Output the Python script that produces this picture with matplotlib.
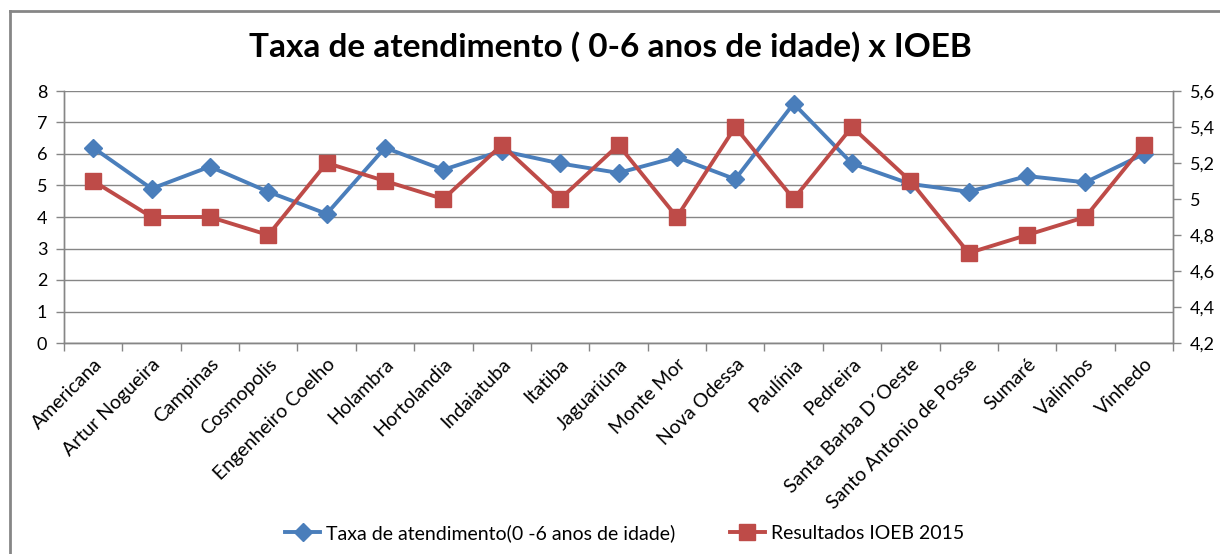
import matplotlib

matplotlib.use("Agg")

import matplotlib.pyplot as plt
from matplotlib.lines import Line2D
from matplotlib.ticker import FixedLocator, FuncFormatter
import numpy as np

plt.rcParams["font.family"] = ["Lato", "DejaVu Sans"]

# chart data
cidades = ["Americana", "Artur Nogueira", "Campinas", "Cosmopolis",
           "Engenheiro Coelho", "Holambra", "Hortolandia", "Indaiatuba",
           "Itatiba", "Jaguariúna", "Monte Mor", "Nova Odessa", "Paulínia",
           "Pedreira", "Santa Barba D´Oeste", "Santo Antonio de Posse",
           "Sumaré", "Valinhos", "Vinhedo"]
taxa = [6.2, 4.9, 5.6, 4.8, 4.1, 6.2, 5.5, 6.1, 5.7, 5.4, 5.9, 5.2, 7.6,
        5.7, 5.05, 4.8, 5.3, 5.1, 6.0]
ioeb = [5.1, 4.9, 4.9, 4.8, 5.2, 5.1, 5.0, 5.3, 5.0, 5.3, 4.9, 5.4, 5.0,
        5.4, 5.1, 4.7, 4.8, 4.9, 5.3]
left_ticks = [0, 1, 2, 3, 4, 5, 6, 7, 8]
right_ticks = [4.2, 4.4, 4.6, 4.8, 5.0, 5.2, 5.4, 5.6]

BLUE = "#4A7EBB"
RED = "#BE4B48"
GRAY = "#868686"

fig = plt.figure(figsize=(12.2, 5.54), dpi=100)
ax = fig.add_axes([64 / 1220, 1 - 343 / 554, (1173 - 64) / 1220, (343 - 91) / 554])
ax2 = ax.twinx()

x = np.arange(len(cidades))

# gridlines from the left axis
ax.set_ylim(0, 8)
ax.set_yticks(left_ticks)
ax.yaxis.grid(True, color=GRAY, linewidth=1.0)
ax.set_axisbelow(True)

ax.plot(x, taxa, color=BLUE, linewidth=2.8, marker="D", markersize=9.5,
        markerfacecolor=BLUE, markeredgecolor=BLUE, zorder=3)
ax2.plot(x, ioeb, color=RED, linewidth=2.8, marker="s", markersize=11,
         markerfacecolor=RED, markeredgecolor=RED, zorder=4)
ax2.set_ylim(4.2, 5.6)
ax2.set_yticks(right_ticks)
ax2.yaxis.set_major_formatter(FuncFormatter(
    lambda v, p: ("%g" % round(v, 1)).replace(".", ",")))

ax.set_xlim(-0.5, len(cidades) - 0.5)
ax.set_xticks(x)
ax.set_xticklabels(cidades, rotation=45, ha="right", rotation_mode="anchor",
                   fontsize=14)
ax.xaxis.set_minor_locator(FixedLocator(np.arange(-0.5, len(cidades), 1.0)))
ax.tick_params(axis="x", which="major", length=0, pad=9)
ax.tick_params(axis="x", which="minor", length=6, color=GRAY, width=1)
ax.tick_params(axis="y", length=6, color=GRAY, width=1, labelsize=13, pad=6)
ax2.tick_params(axis="y", length=6, color=GRAY, width=1, labelsize=13, pad=6)

for a in (ax, ax2):
    a.spines["top"].set_visible(False)
    for s in ("left", "right", "bottom"):
        a.spines[s].set_color(GRAY)
        a.spines[s].set_linewidth(1.0)

fig.suptitle("Taxa de atendimento ( 0-6 anos de idade) x IOEB", y=1 - 47 / 554,
             va="center", fontsize=24, fontweight="bold")

handles = [
    Line2D([], [], color=BLUE, linewidth=2.8, marker="D", markersize=9.5),
    Line2D([], [], color=RED, linewidth=2.8, marker="s", markersize=11),
]
fig.legend(handles, ["Taxa de atendimento(0 -6 anos de idade)",
                     "Resultados IOEB 2015"],
           loc="center", bbox_to_anchor=(0.512, 1 - 533 / 554), ncol=2,
           frameon=False, fontsize=14, handlelength=1.8, handletextpad=0.3,
           columnspacing=2.8)

# chart frame (only top and left edges are visible)
fig.add_artist(Line2D([10 / 1220, 10 / 1220], [0, 1 - 11 / 554],
                      transform=fig.transFigure, color=GRAY, linewidth=2))
fig.add_artist(Line2D([10 / 1220, 1], [1 - 11 / 554, 1 - 11 / 554],
                      transform=fig.transFigure, color=GRAY, linewidth=2))

fig.savefig("out.png", dpi=100)
